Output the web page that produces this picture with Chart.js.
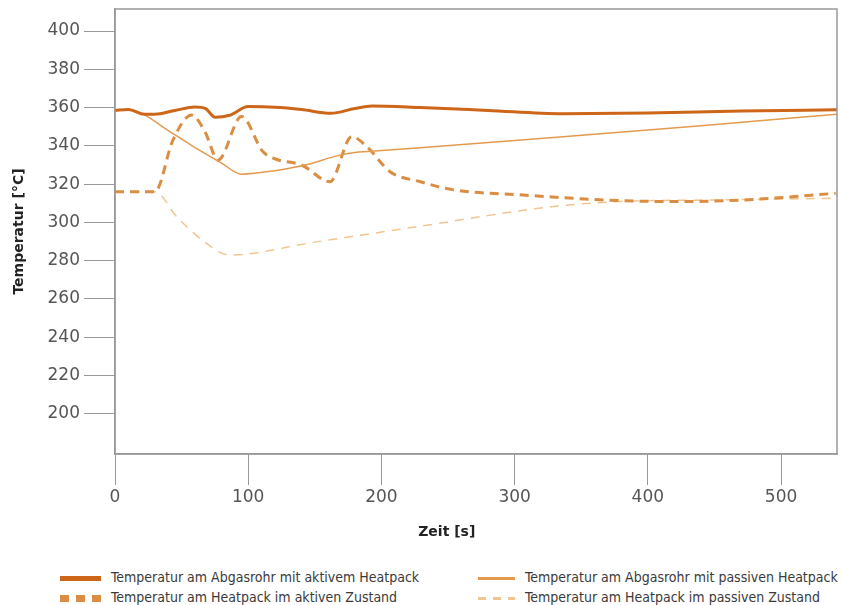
<!DOCTYPE html>
<html>
<head>
<meta charset="utf-8">
<script src="https://cdn.jsdelivr.net/npm/chart.js@4/dist/chart.umd.min.js"></script>
<style>
  body { margin: 0; background: #fff; }
  #wrap { position: relative; width: 842px; height: 605px; }
  #chart { position: absolute; left: 0; top: 0; }
  .leg { position: absolute; font-family: "DejaVu Sans Condensed", sans-serif;
         font-size: 14px; color: #3a3a3a; white-space: nowrap; line-height: 16px; }
  .leg .sym { display: inline-block; vertical-align: middle; margin-right: 10px; }
</style>
</head>
<body>
<div id="wrap">
  <canvas id="chart" width="842" height="555"></canvas>
  <div id="legend"></div>
</div>
<script>
// series labels
const seriesLabels = [
  'Temperatur am Abgasrohr mit aktivem Heatpack',
  'Temperatur am Abgasrohr mit passiven Heatpack',
  'Temperatur am Heatpack im aktiven Zustand',
  'Temperatur am Heatpack im passiven Zustand'
];

// time values (s) and temperatures (°C)
const tAbgasAktiv = [0, 10, 22, 30, 45, 60, 68, 75, 86, 100, 120, 140, 162, 180, 193, 229, 280, 336, 400, 470, 542];
const abgasAktiv  = [358.5, 359, 356.5, 356.5, 358.5, 360.3, 359.5, 355, 356, 360.5, 360.2, 359, 357, 359.5, 360.8, 360, 358.5, 356.8, 357.2, 358.2, 358.8];

const tAbgasPassiv = [0, 10, 20, 40, 58, 80, 95, 120, 146, 165, 180, 190, 229, 334, 440, 542];
const abgasPassiv  = [358.5, 359, 357, 348, 340, 331, 325.2, 327, 330.5, 334.5, 336.5, 337, 339, 344.6, 350.5, 356.5];

const tHeatAktiv = [0, 30, 43.5, 57.6, 67.5, 77.4, 95, 111, 121, 140, 161.4, 177.7, 189, 206.5, 229, 254, 304, 379, 429, 479, 541];
const heatAktiv  = [316, 316, 343, 356.1, 347.4, 332.6, 355.3, 337, 333, 330, 321.3, 344.8, 339.6, 326.5, 321.3, 317, 314.4, 311.4, 310.9, 312, 315.2];

const tHeatPassiv = [0, 30, 46.3, 63.8, 86, 150, 229, 329, 379, 460, 541];
const heatPassiv  = [316, 316, 303, 291.7, 283, 289.7, 298, 308.3, 310.9, 311.8, 312.6];

const yTicks = [200, 220, 240, 260, 280, 300, 320, 340, 360, 380, 400];
const xTicks = [0, 100, 200, 300, 400, 500];

const colors = ['#cd6619', '#e49a4e', '#db8d42', '#f1c591'];

function pts(xs, ys) { return xs.map((x, i) => ({ x, y: ys[i] })); }

const datasets = [
  { label: seriesLabels[0], data: pts(tAbgasAktiv, abgasAktiv), borderColor: colors[0], borderWidth: 3 },
  { label: seriesLabels[1], data: pts(tAbgasPassiv, abgasPassiv), borderColor: colors[1], borderWidth: 1.5 },
  { label: seriesLabels[2], data: pts(tHeatAktiv, heatAktiv), borderColor: colors[2], borderWidth: 3, borderDash: [9, 6] },
  { label: seriesLabels[3], data: pts(tHeatPassiv, heatPassiv), borderColor: colors[3], borderWidth: 1.5, borderDash: [9, 7] }
].map(d => Object.assign(d, { pointRadius: 0, fill: false, cubicInterpolationMode: 'monotone' }));

// draw top and right border of the plot box
const frame = {
  id: 'frame',
  afterDatasetsDraw(chart) {
    const { ctx, chartArea: a } = chart;
    ctx.save();
    ctx.strokeStyle = '#999';
    ctx.lineWidth = 1.5;
    ctx.strokeRect(a.left, a.top, a.right - a.left, a.bottom - a.top);
    ctx.restore();
  }
};

const tickFont = { family: 'DejaVu Sans, sans-serif', size: 17 };
const titleFont = { family: 'DejaVu Sans, sans-serif', size: 14, weight: 'bold' };

new Chart(document.getElementById('chart'), {
  type: 'line',
  data: { datasets },
  plugins: [frame],
  options: {
    responsive: false,
    animation: false,
    layout: { padding: { left: 0, right: 5, top: 9, bottom: 0 } },
    plugins: { legend: { display: false }, tooltip: { enabled: false } },
    scales: {
      x: {
        type: 'linear', min: 0, max: 542,
        afterBuildTicks: s => { s.ticks = xTicks.map(v => ({ value: v })); },
        afterFit: s => { s.height = 101; s.paddingLeft = 0; s.paddingRight = 0; },
        grid: { drawOnChartArea: false, tickLength: 31, color: '#999', lineWidth: 1 },
        border: { color: '#999', width: 1.5 },
        ticks: { color: '#555', font: tickFont, padding: 2, maxRotation: 0 },
        title: { display: true, text: 'Zeit [s]' + '\u00a0'.repeat(12), color: '#222',
                 font: titleFont, padding: { top: 0, bottom: 14 } }
      },
      y: {
        type: 'linear', min: 179, max: 411.5,
        afterBuildTicks: s => { s.ticks = yTicks.map(v => ({ value: v })); },
        afterFit: s => { s.width = 115; s.paddingTop = 0; s.paddingBottom = 0; },
        grid: { drawOnChartArea: false, tickLength: 31, color: '#999', lineWidth: 1 },
        border: { color: '#999', width: 1.5 },
        ticks: { color: '#555', font: tickFont, padding: 4 },
        title: { display: true, text: 'Temperatur [°C]', color: '#222',
                 font: titleFont, padding: { top: 11, bottom: 0 } }
      }
    }
  }
});

// HTML legend in two columns below the chart
const legendPos = [[60, 569], [478, 569], [60, 589], [478, 589]];
const legendEl = document.getElementById('legend');
datasets.forEach((d, k) => {
  const div = document.createElement('div');
  div.className = 'leg';
  div.style.left = legendPos[k][0] + 'px';
  div.style.top = legendPos[k][1] + 'px';
  const sym = document.createElement('span');
  sym.className = 'sym';
  const w = k === 1 || k === 3 ? 37 : 41;
  sym.style.width = w + 'px';
  sym.style.height = (d.borderWidth > 2 ? 5 : 3) + 'px';
  if (d.borderDash) {
    const on = d.borderWidth > 2 ? 9 : 8;
    sym.style.background = `repeating-linear-gradient(90deg, ${d.borderColor} 0 ${on}px, transparent ${on}px ${on + 7}px)`;
    if (d.borderWidth > 2) sym.style.height = '7px';
  } else {
    sym.style.background = d.borderColor;
  }
  div.appendChild(sym);
  div.appendChild(document.createTextNode(d.label));
  legendEl.appendChild(div);
});
</script>
</body>
</html>
